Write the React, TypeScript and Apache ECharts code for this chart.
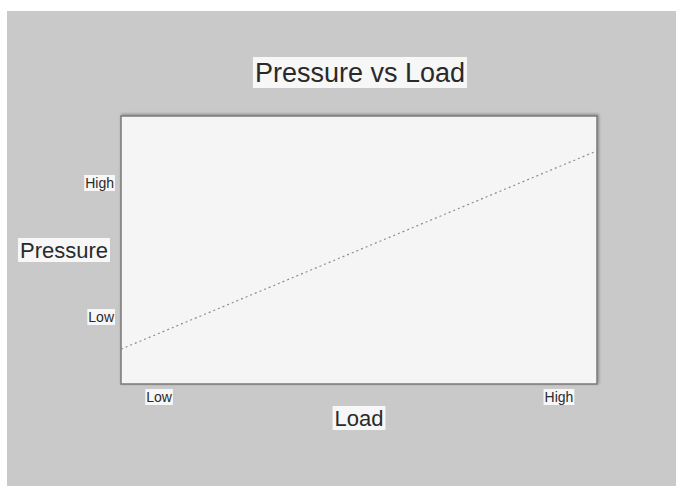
import React, { useEffect, useRef } from "react";
import * as echarts from "echarts";

const loadValues = [0, 100];
const pressureValues = [13, 87];
const xTickLabels: Record<number, string> = { 8: "Low", 92: "High" };
const yTickLabels: Record<number, string> = { 25: "Low", 75: "High" };
const chartTitle = "Pressure vs Load";
const xName = "Load";
const yName = "Pressure";

export default function App() {
  const ref = useRef<HTMLDivElement>(null);
  useEffect(() => {
    if (!ref.current) return;
    const chart = echarts.init(ref.current, null, { renderer: "svg" });
    const font = "Liberation Sans, Arial, sans-serif";
    const boxRich = {
      b: {
        backgroundColor: "#f7f7f7",
        padding: [1, 1],
        fontSize: 14,
        color: "#2a2a2a",
        fontFamily: font,
      },
    };
    const fmt = (map: Record<number, string>) => (v: number) =>
      map[v] ? `{b|${map[v]}}` : "";
    chart.setOption({
      animation: false,
      backgroundColor: "#ffffff",
      textStyle: { fontFamily: font },
      graphic: [
        {
          type: "rect",
          left: 7,
          top: 11,
          shape: { width: 669, height: 475 },
          style: { fill: "#c9c9c9" },
          z: -10,
        },
      ],
      title: {
        text: chartTitle,
        left: 358,
        top: 57,
        textAlign: "center",
        padding: [2, 2],
        backgroundColor: "#f7f7f7",
        textStyle: {
          fontFamily: font,
          fontSize: 27,
          fontWeight: "normal",
          color: "#2a2a2a",
        },
      },
      grid: {
        left: 121,
        top: 116,
        right: 79,
        bottom: 102,
        show: true,
        backgroundColor: "#f5f5f5",
        borderColor: "#7a7a7a",
        borderWidth: 1.5,
        shadowColor: "rgba(0,0,0,0.35)",
        shadowBlur: 3,
        shadowOffsetX: 1,
        shadowOffsetY: -1,
      },
      xAxis: {
        type: "value",
        min: 0,
        max: 100,
        interval: 4,
        name: xName,
        nameLocation: "middle",
        nameGap: 22,
        nameMoveOverlap: false,
        nameTextStyle: {
          fontSize: 22,
          color: "#2a2a2a",
          backgroundColor: "#f7f7f7",
          padding: [1, 2],
        },
        axisLine: { show: false },
        axisTick: { show: false },
        splitLine: { show: false },
        axisLabel: {
          margin: 5,
          formatter: fmt(xTickLabels),
          rich: boxRich,
        },
      },
      yAxis: {
        type: "value",
        min: 0,
        max: 100,
        interval: 25,
        name: yName,
        nameLocation: "middle",
        nameRotate: 0,
        nameGap: 11,
        nameMoveOverlap: false,
        nameTextStyle: {
          fontSize: 22,
          color: "#2a2a2a",
          backgroundColor: "#f7f7f7",
          padding: [1, 2],
        },
        axisLine: { show: false },
        axisTick: { show: false },
        splitLine: { show: false },
        axisLabel: {
          margin: 6,
          formatter: fmt(yTickLabels),
          rich: boxRich,
        },
      },
      series: [
        {
          type: "line",
          data: loadValues.map((x, i) => [x, pressureValues[i]]),
          showSymbol: false,
          lineStyle: { color: "#8c8c8c", width: 1.2, type: [2, 3] },
        },
      ],
    });
    return () => chart.dispose();
  }, []);
  return (
    <div
      ref={ref}
      style={{ position: "absolute", left: 0, top: 0, width: 676, height: 486 }}
    />
  );
}
